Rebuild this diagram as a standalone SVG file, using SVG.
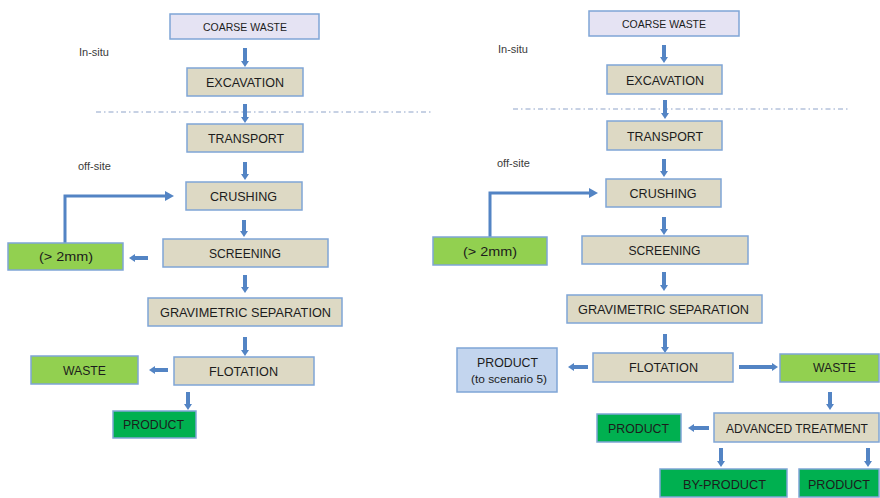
<svg xmlns="http://www.w3.org/2000/svg" width="880" height="498" viewBox="0 0 880 498">
  <style>
    .box { stroke: #7fa5d6; stroke-width: 1.5; }
    .start { fill: #e5e3f3; }
    .step { fill: #ddd9c4; }
    .lime { fill: #92d050; }
    .green { fill: #00b050; }
    .blue { fill: #c3d5ee; }
    text { font-family: "Liberation Sans", Arial, sans-serif; fill: #1c1c1c; text-anchor: middle; }
    .lbl { font-size: 13.5px; }
    .sm { font-size: 11px; }
    .note { font-size: 11px; text-anchor: start; fill: #3a3a3a; }
    .arr { stroke: #5384c4; stroke-width: 4; fill: none; marker-end: url(#head); }
    .loop { stroke: #5384c4; stroke-width: 3; fill: none; marker-end: url(#headL); }
    .zone { stroke: #8ea3c9; stroke-width: 1; stroke-dasharray: 5 3 1.5 3; }
  </style>
  <defs>
    <marker id="head" viewBox="0 -4 6 8" refX="2" refY="0" markerWidth="6" markerHeight="8" markerUnits="userSpaceOnUse" orient="auto">
      <path d="M0,-4 L6,0 L0,4 z" fill="#5384c4"/>
    </marker>
    <marker id="headL" viewBox="0 -5 9 10" refX="3" refY="0" markerWidth="9" markerHeight="10" markerUnits="userSpaceOnUse" orient="auto">
      <path d="M0,-5 L9,0 L0,5 z" fill="#5384c4"/>
    </marker>
  </defs>

  <!-- zone separators and zone notes -->
  <line class="zone" x1="96" y1="112" x2="432" y2="112"/>
  <line class="zone" x1="513" y1="109" x2="848" y2="109"/>
  <text class="note" x="79" y="56">In-situ</text>
  <text class="note" x="78" y="170">off-site</text>
  <text class="note" x="498" y="53">In-situ</text>
  <text class="note" x="497" y="167">off-site</text>

  <!-- connectors -->
  <g id="connectors">
    <!-- left scheme -->
    <path class="arr" d="M245,48 V63"/>
    <path class="arr" d="M245,104 V119"/>
    <path class="arr" d="M245,162 V176"/>
    <path class="arr" d="M244,220 V233"/>
    <path class="arr" d="M245,275 V289"/>
    <path class="arr" d="M245,337 V352"/>
    <path class="arr" d="M188,392 V406"/>
    <path class="arr" d="M148,258 H133"/>
    <path class="arr" d="M168,370 H153"/>
    <path class="loop" d="M65,243 V196 H168"/>
    <!-- right scheme -->
    <path class="arr" d="M664,45 V59"/>
    <path class="arr" d="M665,100 V115"/>
    <path class="arr" d="M664,159 V173"/>
    <path class="arr" d="M664,217 V231"/>
    <path class="arr" d="M664,272 V287"/>
    <path class="arr" d="M665,334 V349"/>
    <path class="arr" d="M588,367 H572"/>
    <path class="arr" d="M739,367 H774"/>
    <path class="arr" d="M830,392 V406"/>
    <path class="arr" d="M709,428 H692"/>
    <path class="arr" d="M721,448 V463"/>
    <path class="arr" d="M868,448 V463"/>
    <path class="loop" d="M490,237 V193 H592"/>
  </g>

  <!-- left scheme nodes -->
  <g id="l-coarse"><rect class="box start" x="170" y="14" width="149" height="25"/><text class="sm" x="245" y="31" textLength="84" lengthAdjust="spacingAndGlyphs">COARSE WASTE</text></g>
  <g id="l-excavation"><rect class="box step" x="187" y="68" width="116" height="28"/><text class="lbl" x="245" y="87" textLength="78" lengthAdjust="spacingAndGlyphs">EXCAVATION</text></g>
  <g id="l-transport"><rect class="box step" x="187" y="124" width="116" height="28"/><text class="lbl" x="246" y="143" textLength="76" lengthAdjust="spacingAndGlyphs">TRANSPORT</text></g>
  <g id="l-crushing"><rect class="box step" x="186" y="182" width="116" height="28"/><text class="lbl" x="243.5" y="201" textLength="67" lengthAdjust="spacingAndGlyphs">CRUSHING</text></g>
  <g id="l-screening"><rect class="box step" x="163" y="239" width="165" height="28"/><text class="lbl" x="245" y="258" textLength="72" lengthAdjust="spacingAndGlyphs">SCREENING</text></g>
  <g id="l-oversize"><rect class="box lime" x="8" y="243" width="115" height="27"/><text class="lbl" x="66" y="261" textLength="54" lengthAdjust="spacingAndGlyphs">(&gt; 2mm)</text></g>
  <g id="l-gravimetric"><rect class="box step" x="148" y="298" width="194" height="28"/><text class="lbl" x="245.5" y="317" textLength="171" lengthAdjust="spacingAndGlyphs">GRAVIMETRIC SEPARATION</text></g>
  <g id="l-flotation"><rect class="box step" x="174" y="357" width="140" height="28"/><text class="lbl" x="243.5" y="376" textLength="69" lengthAdjust="spacingAndGlyphs">FLOTATION</text></g>
  <g id="l-waste"><rect class="box lime" x="31" y="356" width="107" height="28"/><text class="lbl" x="84.5" y="375" textLength="43" lengthAdjust="spacingAndGlyphs">WASTE</text></g>
  <g id="l-product"><rect class="box green" x="113" y="411" width="83" height="27"/><text class="lbl" x="153.5" y="429" textLength="61" lengthAdjust="spacingAndGlyphs">PRODUCT</text></g>

  <!-- right scheme nodes -->
  <g id="r-coarse"><rect class="box start" x="589" y="11" width="150" height="25"/><text class="sm" x="664" y="28" textLength="84" lengthAdjust="spacingAndGlyphs">COARSE WASTE</text></g>
  <g id="r-excavation"><rect class="box step" x="607" y="65" width="115" height="29"/><text class="lbl" x="665" y="85" textLength="78" lengthAdjust="spacingAndGlyphs">EXCAVATION</text></g>
  <g id="r-transport"><rect class="box step" x="607" y="121" width="115" height="29"/><text class="lbl" x="665" y="141" textLength="76" lengthAdjust="spacingAndGlyphs">TRANSPORT</text></g>
  <g id="r-crushing"><rect class="box step" x="606" y="179" width="115" height="28"/><text class="lbl" x="663" y="198" textLength="67" lengthAdjust="spacingAndGlyphs">CRUSHING</text></g>
  <g id="r-screening"><rect class="box step" x="582" y="236" width="166" height="28"/><text class="lbl" x="664.5" y="255" textLength="72" lengthAdjust="spacingAndGlyphs">SCREENING</text></g>
  <g id="r-oversize"><rect class="box lime" x="433" y="237" width="114" height="28"/><text class="lbl" x="490" y="256" textLength="54" lengthAdjust="spacingAndGlyphs">(&gt; 2mm)</text></g>
  <g id="r-gravimetric"><rect class="box step" x="567" y="295" width="195" height="28"/><text class="lbl" x="663.5" y="314" textLength="171" lengthAdjust="spacingAndGlyphs">GRAVIMETRIC SEPARATION</text></g>
  <g id="r-flotation"><rect class="box step" x="593" y="353" width="140" height="29"/><text class="lbl" x="663.5" y="372" textLength="69" lengthAdjust="spacingAndGlyphs">FLOTATION</text></g>
  <g id="r-product-s5"><rect class="box blue" x="457" y="348" width="100" height="44"/><text class="lbl" x="507.5" y="367" textLength="61" lengthAdjust="spacingAndGlyphs">PRODUCT</text><text class="sm" x="509" y="383" textLength="76" lengthAdjust="spacingAndGlyphs">(to scenario 5)</text></g>
  <g id="r-waste"><rect class="box lime" x="780" y="354" width="99" height="28"/><text class="lbl" x="834.5" y="372" textLength="43" lengthAdjust="spacingAndGlyphs">WASTE</text></g>
  <g id="r-advanced"><rect class="box step" x="714" y="413" width="165" height="29"/><text x="797" y="433" font-size="12.5" textLength="142" lengthAdjust="spacingAndGlyphs">ADVANCED TREATMENT</text></g>
  <g id="r-product-a"><rect class="box green" x="597" y="414" width="84" height="28"/><text class="lbl" x="638.5" y="433" textLength="61" lengthAdjust="spacingAndGlyphs">PRODUCT</text></g>
  <g id="r-byproduct"><rect class="box green" x="660" y="469" width="127" height="28"/><text class="lbl" x="724.5" y="489" textLength="83" lengthAdjust="spacingAndGlyphs">BY-PRODUCT</text></g>
  <g id="r-product-b"><rect class="box green" x="799" y="469" width="80" height="28"/><text class="lbl" x="839" y="489" textLength="62" lengthAdjust="spacingAndGlyphs">PRODUCT</text></g>
</svg>
